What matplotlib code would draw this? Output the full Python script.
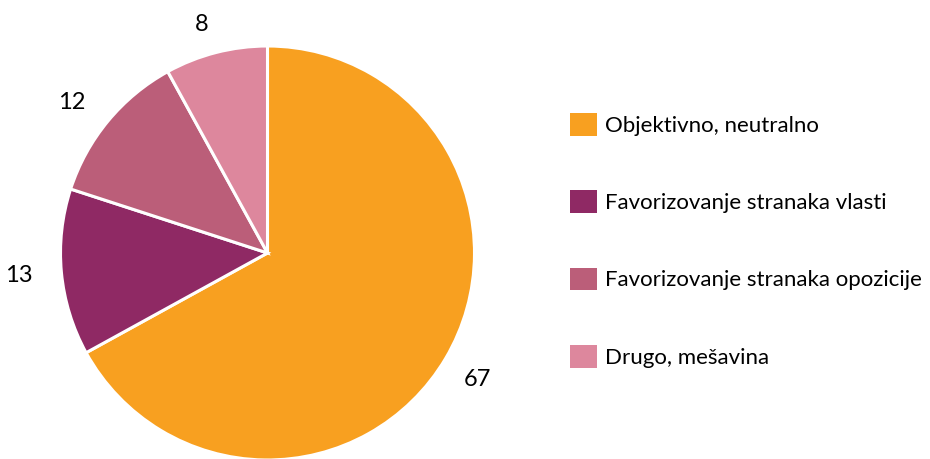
import matplotlib.pyplot as plt
from matplotlib.patches import Patch

categories = ["Objektivno, neutralno", "Favorizovanje stranaka vlasti",
              "Favorizovanje stranaka opozicije", "Drugo, mešavina"]
values = [67, 13, 12, 8]
colors = ["#F8A020", "#8F2964", "#BB5E79", "#DD879D"]

plt.rcParams['font.family'] = ['Lato', 'DejaVu Sans']

fig = plt.figure(figsize=(9.3, 4.59), dpi=100)
# pie area: square box in pixels, centre ~ (267, 253), radius ~207
W, H = 930, 459
r = 207
cx, cy = 267.5, 253
ax = fig.add_axes([(cx - r) / W, (H - cy - r) / H, 2 * r / W, 2 * r / H])

wedges, texts = ax.pie(values, colors=colors, startangle=90, counterclock=False,
                       labels=[str(v) for v in values], labeldistance=1.14,
                       wedgeprops=dict(edgecolor="white", linewidth=2.2),
                       textprops=dict(fontsize=17, color="black"))
# the big slice's label sits lower-right, not at the mid-angle
texts[0].set_position((0.95, -0.61))
ax.set_xlim(-1, 1)
ax.set_ylim(-1, 1)
ax.set_aspect('auto')
ax.axis('off')

handles = [Patch(facecolor=c, edgecolor='none') for c in colors]
leg = fig.legend(handles, categories, loc='upper left',
                 bbox_to_anchor=(561 / W, 1 - 104 / H), frameon=False,
                 fontsize=16, handlelength=1.2, handleheight=1.2,
                 handletextpad=0.36, labelspacing=2.45, borderaxespad=0)

fig.savefig("out.png", dpi=100)
